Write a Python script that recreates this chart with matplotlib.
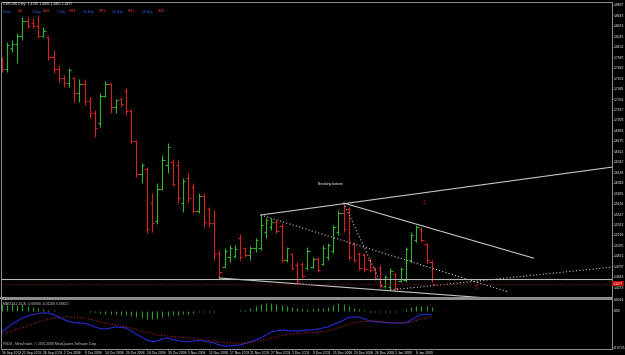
import numpy as np
import matplotlib.pyplot as plt

plt.rcParams['font.family'] = ['Liberation Sans', 'DejaVu Sans']

# GBPUSD daily bars, 16 Sep 2008 .. 13 Jan 2009
bar_open = [1.7950, 1.7800, 1.8130, 1.8200, 1.8320, 1.8560, 1.8520, 1.8470, 1.8320, 1.8300,
            1.7990, 1.7800, 1.7660, 1.7580, 1.7660, 1.7420, 1.7560, 1.7300, 1.7120, 1.6950,
            1.7380, 1.7560, 1.7200, 1.7330, 1.7450, 1.7150, 1.6680, 1.6150, 1.6230, 1.5700,
            1.5420, 1.5920, 1.6300, 1.6350, 1.6300, 1.5700, 1.6100, 1.5950, 1.5580, 1.5810,
            1.5600, 1.5380, 1.4920, 1.4700, 1.4850, 1.4870, 1.5150, 1.4990, 1.4880, 1.4990,
            1.5000, 1.5250, 1.5320, 1.5400, 1.5340, 1.4800, 1.4900, 1.4720, 1.4740, 1.4680,
            1.4700, 1.4820, 1.4750, 1.4850, 1.4950, 1.5250, 1.5540, 1.5600, 1.5050, 1.4900,
            1.4880, 1.4800, 1.4680, 1.4680, 1.4400, 1.4380, 1.4580, 1.4480, 1.4500, 1.4800,
            1.5120, 1.5300, 1.5050, 1.4780]
bar_high = [1.7991, 1.8227, 1.8258, 1.8368, 1.8619, 1.8619, 1.8603, 1.8650, 1.8462, 1.8321,
            1.8101, 1.7866, 1.7709, 1.7819, 1.7677, 1.7646, 1.7646, 1.7364, 1.7160, 1.7426,
            1.7615, 1.7583, 1.7332, 1.7364, 1.7505, 1.7175, 1.6689, 1.6328, 1.6265, 1.5857,
            1.6014, 1.6454, 1.6642, 1.6391, 1.6375, 1.6093, 1.6171, 1.6014, 1.5857, 1.5857,
            1.5638, 1.5591, 1.4963, 1.4994, 1.5041, 1.5041, 1.5214, 1.5010, 1.5026, 1.5151,
            1.5512, 1.5465, 1.5465, 1.5434, 1.5387, 1.5010, 1.4916, 1.4775, 1.4775, 1.5010,
            1.4853, 1.4853, 1.5041, 1.5073, 1.5355, 1.5591, 1.5700, 1.5638, 1.5089, 1.4932,
            1.4916, 1.4838, 1.4696, 1.4728, 1.4571, 1.4681, 1.4602, 1.4696, 1.5010, 1.5245,
            1.5355, 1.5324, 1.5073, 1.4806]
bar_low = [1.7756, 1.7756, 1.8070, 1.7897, 1.8258, 1.8446, 1.8446, 1.8289, 1.8305, 1.7944,
           1.7740, 1.7599, 1.7520, 1.7520, 1.7285, 1.7285, 1.7238, 1.7034, 1.6736, 1.6893,
           1.7364, 1.7113, 1.7113, 1.7207, 1.7081, 1.6642, 1.6108, 1.6014, 1.5230, 1.5245,
           1.5371, 1.5904, 1.6171, 1.5967, 1.5700, 1.5559, 1.5716, 1.5544, 1.5544, 1.5324,
           1.5324, 1.4806, 1.4524, 1.4696, 1.4775, 1.4838, 1.4806, 1.4853, 1.4806, 1.4932,
           1.4963, 1.5151, 1.5277, 1.5230, 1.4775, 1.4775, 1.4649, 1.4430, 1.4524, 1.4649,
           1.4681, 1.4618, 1.4728, 1.4806, 1.4916, 1.5198, 1.5245, 1.4806, 1.4775, 1.4649,
           1.4618, 1.4618, 1.4492, 1.4367, 1.4367, 1.4335, 1.4335, 1.4461, 1.4461, 1.4775,
           1.5089, 1.5089, 1.4759, 1.4461]
bar_close = [1.7800, 1.8180, 1.8200, 1.8320, 1.8560, 1.8480, 1.8470, 1.8320, 1.8400, 1.7990,
             1.7800, 1.7660, 1.7580, 1.7780, 1.7420, 1.7560, 1.7300, 1.7120, 1.6880, 1.7380,
             1.7560, 1.7200, 1.7310, 1.7250, 1.7150, 1.6680, 1.6150, 1.6300, 1.5300, 1.5380,
             1.5920, 1.6380, 1.6580, 1.6000, 1.5780, 1.6040, 1.5780, 1.5580, 1.5810, 1.5400,
             1.5380, 1.4900, 1.4620, 1.4950, 1.4990, 1.4980, 1.4850, 1.4880, 1.4990, 1.5120,
             1.5360, 1.5440, 1.5400, 1.5260, 1.4800, 1.4990, 1.4680, 1.4480, 1.4560, 1.4950,
             1.4820, 1.4650, 1.5000, 1.5040, 1.5320, 1.5540, 1.5300, 1.4850, 1.4800, 1.4680,
             1.4660, 1.4650, 1.4520, 1.4400, 1.4540, 1.4640, 1.4360, 1.4660, 1.4980, 1.5200,
             1.5320, 1.5120, 1.4800, 1.4437]

# MACD pane: blue line, red dotted line, green histogram
macd_main = [-0.042, -0.034, -0.026, -0.020, -0.014, -0.010, -0.007, -0.005, -0.004, -0.004,
             -0.007, -0.012, -0.017, -0.021, -0.023, -0.024, -0.025, -0.028, -0.032, -0.035,
             -0.036, -0.034, -0.032, -0.033, -0.034, -0.040, -0.047, -0.052, -0.058, -0.061,
             -0.060, -0.056, -0.054, -0.057, -0.059, -0.061, -0.062, -0.060, -0.059, -0.060,
             -0.062, -0.064, -0.068, -0.070, -0.070, -0.069, -0.068, -0.065, -0.061, -0.058,
             -0.054, -0.048, -0.042, -0.040, -0.038, -0.039, -0.040, -0.040, -0.039, -0.038,
             -0.038, -0.036, -0.034, -0.032, -0.027, -0.023, -0.018, -0.013, -0.012, -0.012,
             -0.016, -0.020, -0.021, -0.022, -0.023, -0.024, -0.024, -0.024, -0.024, -0.018,
             -0.012, -0.007, -0.006, -0.008]
macd_signal = [-0.046, -0.044, -0.040, -0.036, -0.033, -0.030, -0.026, -0.022, -0.019, -0.016,
               -0.014, -0.013, -0.012, -0.012, -0.0126, -0.0134, -0.014, -0.016, -0.019, -0.022,
               -0.024, -0.026, -0.028, -0.030, -0.032, -0.034, -0.037, -0.040, -0.043, -0.045,
               -0.048, -0.049, -0.050, -0.051, -0.052, -0.053, -0.054, -0.055, -0.056, -0.058,
               -0.059, -0.060, -0.062, -0.063, -0.064, -0.064, -0.064, -0.064, -0.063, -0.061,
               -0.059, -0.057, -0.054, -0.052, -0.049, -0.047, -0.046, -0.045, -0.044, -0.0434,
               -0.043, -0.042, -0.041, -0.039, -0.037, -0.034, -0.030, -0.026, -0.023, -0.022,
               -0.021, -0.020, -0.020, -0.021, -0.022, -0.023, -0.0236, -0.024, -0.023, -0.022,
               -0.019, -0.016, -0.014, -0.012]
macd_hist = [0.014, 0.013, 0.014, 0.012, 0.014, 0.010, 0.008, 0.007, 0.005, 0.003,
             0.002, 0.001, 0.0006, 0.0006, 0.0006, 0.0006, 0.0006, -0.001, -0.002, -0.004,
             -0.005, -0.006, -0.006, -0.007, -0.008, -0.010, -0.012, -0.014, -0.016, -0.016,
             -0.014, -0.012, -0.010, -0.008, -0.007, -0.006, -0.005, -0.003, -0.002, -0.002,
             -0.001, -0.001, -0.0006, -0.0006, -0.0006, 0.001, 0.002, 0.003, 0.006, 0.010,
             0.014, 0.016, 0.016, 0.014, 0.012, 0.010, 0.008, 0.006, 0.005, 0.005,
             0.005, 0.006, 0.006, 0.008, 0.012, 0.016, 0.014, 0.010, 0.006, 0.004,
             0.002, -0.001, -0.002, -0.002, -0.002, -0.001, -0.001, 0.0006, 0.004, 0.008,
             0.010, 0.011, 0.010, 0.008]

date_labels = ["16 Sep 2008", "22 Sep 2008", "26 Sep 2008", "2 Oct 2008", "8 Oct 2008",
               "14 Oct 2008", "20 Oct 2008", "24 Oct 2008", "30 Oct 2008", "5 Nov 2008",
               "11 Nov 2008", "17 Nov 2008", "21 Nov 2008", "27 Nov 2008", "3 Dec 2008",
               "9 Dec 2008", "15 Dec 2008", "19 Dec 2008", "26 Dec 2008", "2 Jan 2009",
               "8 Jan 2009"]

# drawn objects: (bar, price) -> (bar, price)
trend_solid = [((50, 1.5512), (117.9, 1.6265)),
               ((66, 1.5700), (102.6, 1.4837)),
               ((42, 1.4524), (93.7, 1.4210))]
trend_dotted = [((50, 1.5512), (97.8, 1.4304)),
                ((66, 1.5700), (73.6, 1.4367)),
                ((75, 1.4335), (117.9, 1.4696))]
support_level = 1.4508
bid_price = 1.4437

header = "GBPUSD,Daily  1.4780 1.4806 1.4461 1.4437"
range_labels = ["Today", "325", "1 Day", "1138", "5 Day", "5014",
                "10 Day", "5079", "20 Day", "5515", "50 Day", "5851"]

GREEN = '#34b234'
RED = '#d42222'
GREY = '#c4c4c4'
FS = 2.4

x = np.arange(len(bar_close))
o = np.array(bar_open)
c = np.array(bar_close)
cols = np.where(c >= o, GREEN, RED)

fig = plt.figure(figsize=(6.25, 3.55), dpi=100, facecolor='black')
ax = fig.add_axes([1/625, 57/355, 611/625, 296/355], facecolor='black')
ind = fig.add_axes([1/625, 6/355, 611/625, 50/355], facecolor='black')

# price bars
ax.vlines(x, bar_low, bar_high, colors=cols, lw=0.8)
ax.hlines(o, x - 0.45, x, colors=cols, lw=0.8)
ax.hlines(c, x, x + 0.45, colors=cols, lw=0.8)

for (x0, y0), (x1, y1) in trend_solid:
    ax.plot([x0, x1], [y0, y1], color=GREY, lw=0.8)
for (x0, y0), (x1, y1) in trend_dotted:
    ax.plot([x0, x1], [y0, y1], color=GREY, lw=0.8, ls=(0, (1, 2)))
ax.axhline(support_level, color='#b8b8b8', lw=0.8)
ax.axhline(bid_price, color='#7a1010', lw=0.8, ls=(0, (1, 1.5)))

ax.text(63.4, 1.5999, "Breaking bottom", color='white', fontsize=FS, ha='center', va='center')
ax.text(81.6, 1.5700, "\u21e9", color=RED, fontsize=4.5, ha='center', va='center')
ax.text(91.6, 1.4367, "\u21e7", color=RED, fontsize=4.5, ha='center', va='center')

ax.set_xlim(-0.15, 117.8)
ax.set_ylim(1.4210, 1.8854)
yt = 1.8807 - 0.0164 * np.arange(28)
ax.yaxis.tick_right()
ax.set_yticks(yt)
ax.set_yticklabels(['%.4f' % v for v in yt])
ax.set_xticks([])
ax.tick_params(axis='y', colors='#a0a0a0', labelcolor='white', labelsize=FS,
               length=1, width=0.5, pad=0.5)
for s in ax.spines.values():
    s.set_color('#909090')
    s.set_linewidth(0.7)
ax.spines['bottom'].set_linewidth(1.4)

ax.text(1.0015, bid_price, '%.4f' % bid_price, transform=ax.get_yaxis_transform(),
        color='white', fontsize=FS, ha='left', va='center', clip_on=False,
        bbox=dict(facecolor='#c00000', edgecolor='none', pad=0.5))

# header lines
fig.text(3/625, 1 - 4/355, header, color='white', fontsize=FS, va='center')
label_x = [3, 18, 32, 43, 57, 69, 83, 99, 112, 128, 142, 158]
for k, (lx, txt) in enumerate(zip(label_x, range_labels)):
    fig.text(lx/625, 1 - 11.5/355, txt, color='#3c5cff' if k % 2 == 0 else '#ff3c3c',
             fontsize=FS, va='center')

# MACD pane
ind.vlines(x, 0, macd_hist, colors='#2f9a2f', lw=0.8)
ind.plot(x, macd_main, color='#2828d8', lw=0.8)
ind.plot(x, macd_signal, color='#b02020', lw=0.8, ls=(0, (1, 1.5)))
ind.set_xlim(-0.15, 117.8)
ind.set_ylim(-0.076, 0.024)
ind.yaxis.tick_right()
ind.set_yticks([0.0228, 0.0, -0.0725])
ind.set_yticklabels(['0.0228', '0.00', '-0.0725'])
ind.set_xticks(np.arange(0, len(date_labels) * 4, 4))
ind.set_xticklabels(date_labels)
for lab in ind.get_xticklabels():
    lab.set_ha('left')
ind.tick_params(axis='both', colors='#a0a0a0', labelcolor='white', labelsize=FS,
                length=1, width=0.5, pad=0.5)
for s in ind.spines.values():
    s.set_color('#909090')
    s.set_linewidth(0.7)
ind.text(0.003, 0.93, "MACD(12,26,9) -0.00800 -0.01200 0.00800", transform=ind.transAxes,
         color='#d0d0d0', fontsize=FS, va='top')
ind.text(0.003, 0.06, "FXDD - MetaTrader, \u00a9 2001-2008 MetaQuotes Software Corp.",
         transform=ind.transAxes, color='#d0d0d0', fontsize=FS, va='bottom')

fig.savefig('out.png', dpi=100, facecolor='black')
